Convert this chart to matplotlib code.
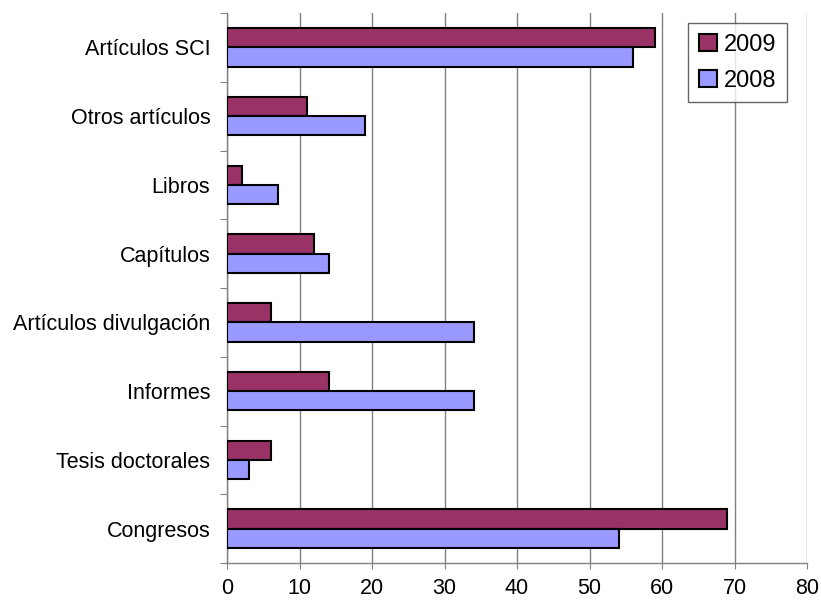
import matplotlib.pyplot as plt
import numpy as np
from matplotlib.patches import Patch

plt.rcParams['font.family'] = ['Liberation Sans', 'DejaVu Sans']

# data (top to bottom)
categorias = ['Artículos SCI', 'Otros artículos', 'Libros', 'Capítulos',
              'Artículos divulgación', 'Informes', 'Tesis doctorales', 'Congresos']
v2009 = [59, 11, 2, 12, 6, 14, 6, 69]
v2008 = [56, 19, 7, 14, 34, 34, 3, 54]
xticks = [0, 10, 20, 30, 40, 50, 60, 70, 80]

c2009 = '#993366'
c2008 = '#9999ff'

fig = plt.figure(figsize=(8.21, 6.0), dpi=100)
ax = fig.add_axes([227/821, 1 - 563/600, 580/821, 550/600])

y = np.arange(len(categorias))
h = 0.28
ax.barh(y - h/2, v2009, height=h, color=c2009, edgecolor='black', linewidth=1.5, zorder=3)
ax.barh(y + h/2, v2008, height=h, color=c2008, edgecolor='black', linewidth=1.5, zorder=3)

ax.set_xlim(0, 80)
ax.set_ylim(len(categorias) - 0.5, -0.5)
ax.set_xticks(xticks)
ax.set_xticklabels([str(t) for t in xticks], fontsize=15.5)
ax.xaxis.grid(True, color='#808080', linewidth=1.0, zorder=0)
ax.tick_params(axis='x', length=4, color='#808080', pad=7)

# category ticks at boundaries, labels at centers
ax.set_yticks(np.arange(-0.5, len(categorias), 1.0))
ax.set_yticklabels([])
ax.set_yticks(y, minor=True)
ax.set_yticklabels(categorias, minor=True, fontsize=15.5)
ax.tick_params(axis='y', which='major', length=5, color='#808080')
ax.tick_params(axis='y', which='minor', length=0, pad=12)

for s in ['top', 'right']:
    ax.spines[s].set_visible(False)
for s in ['left', 'bottom']:
    ax.spines[s].set_color('#808080')
    ax.spines[s].set_linewidth(1.0)

handles = [Patch(facecolor=c2009, edgecolor='black', linewidth=1.5, label='2009'),
           Patch(facecolor=c2008, edgecolor='black', linewidth=1.5, label='2008')]
leg = ax.legend(handles=handles, loc='upper right', bbox_to_anchor=(0.9655, 0.982),
                fontsize=17, frameon=True, fancybox=False, handlelength=0.75,
                handleheight=0.75, handletextpad=0.3, labelspacing=0.6,
                borderpad=0.45, borderaxespad=0)
leg.get_frame().set_edgecolor('#404040')
leg.get_frame().set_linewidth(1.0)
leg.set_zorder(5)

fig.savefig('out.png', dpi=100)
